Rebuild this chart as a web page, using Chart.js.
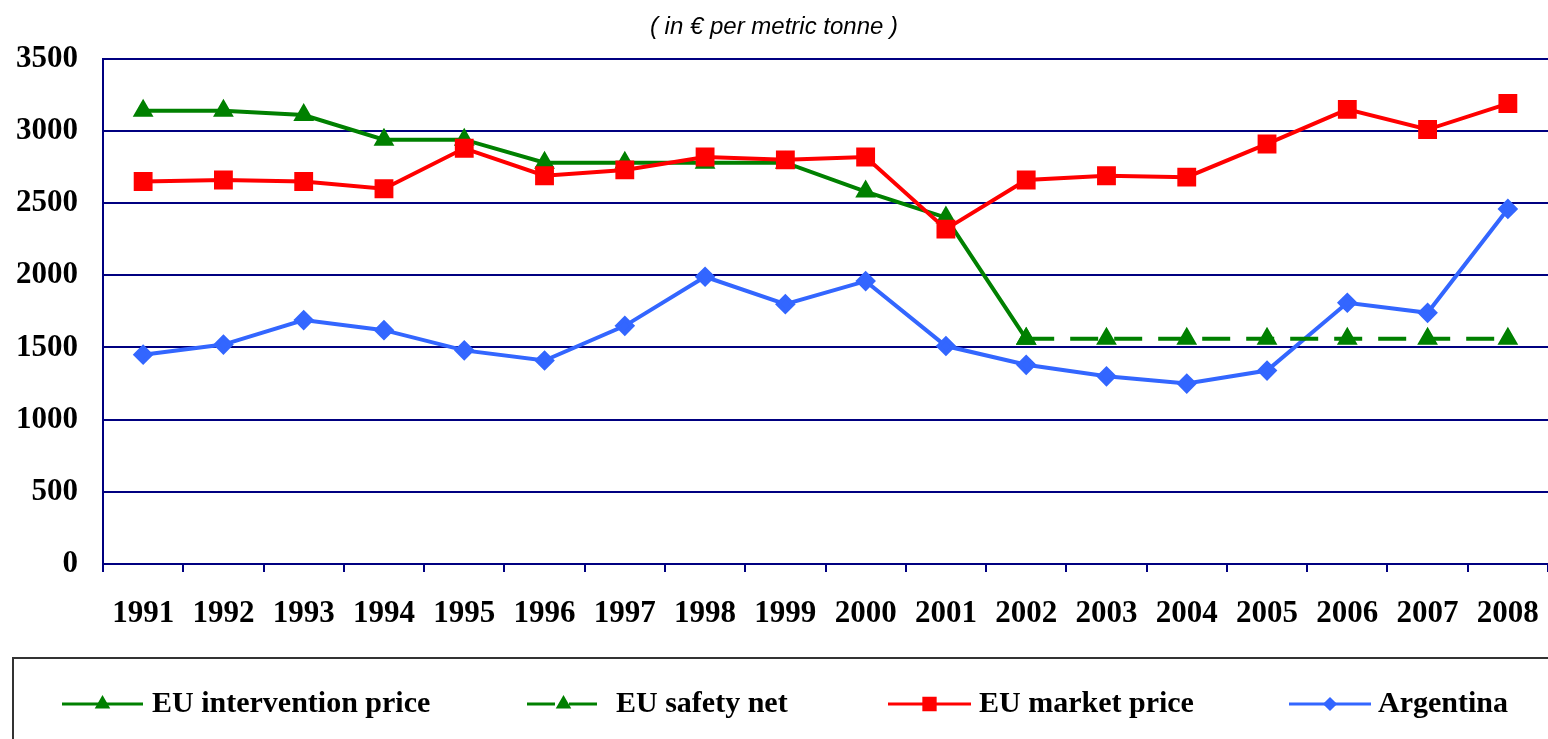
<!DOCTYPE html>
<html>
<head>
<meta charset="utf-8">
<script src="https://cdn.jsdelivr.net/npm/chart.js@4.4.1/dist/chart.umd.min.js"></script>
<style>
  html, body { margin: 0; padding: 0; background: #fff; }
  #wrap { width: 1548px; height: 739px; position: relative; }
</style>
</head>
<body>
<div id="wrap"><canvas id="priceChart"></canvas></div>
<script>
// Годы и ряды цен (евро за тонну)
const years = ['1991', '1992', '1993', '1994', '1995', '1996', '1997', '1998', '1999',
               '2000', '2001', '2002', '2003', '2004', '2005', '2006', '2007', '2008'];
const interventionPrice = [3140, 3140, 3110, 2940, 2940, 2780, 2780, 2780, 2780,
                           2580, 2400, 1560, null, null, null, null, null, null];
const safetyNet = [null, null, null, null, null, null, null, null, null,
                   null, null, 1560, 1560, 1560, 1560, 1560, 1560, 1560];
const marketPrice = [2650, 2660, 2650, 2600, 2880, 2690, 2730, 2820, 2800,
                     2820, 2320, 2660, 2690, 2680, 2910, 3150, 3010, 3190];
const argentina = [1450, 1520, 1690, 1620, 1480, 1410, 1650, 1990, 1800,
                   1960, 1510, 1380, 1300, 1250, 1340, 1810, 1740, 2460];
const yTicks = [0, 500, 1000, 1500, 2000, 2500, 3000, 3500];

const NAVY = '#000080';
const GREEN = '#008000';
const RED = '#ff0000';
const BLUE = '#3366ff';
const SERIF = '"Liberation Serif", "Times New Roman", serif';

// Легенда в рамке внизу
const boxLegend = {
    id: 'boxLegend',
    afterDraw(chart) {
        const ctx = chart.ctx;
        ctx.save();
        ctx.strokeStyle = '#333';
        ctx.lineWidth = 2;
        ctx.strokeRect(13, 658, 1600, 120);
        const cy = 704;
        const items = [
            { x0: 62, x1: 143, tx: 152, color: GREEN, style: 'triangle', r: 6, dash: [], text: 'EU intervention price' },
            { x0: 527, x1: 600, tx: 616, color: GREEN, style: 'triangle', r: 6, dash: [28, 14], text: 'EU safety net' },
            { x0: 888, x1: 971, tx: 979, color: RED, style: 'rect', r: 8, dash: [], text: 'EU market price' },
            { x0: 1289, x1: 1371, tx: 1378, color: BLUE, style: 'rectRot', r: 5, dash: [], text: 'Argentina' }
        ];
        items.forEach(it => {
            ctx.strokeStyle = it.color;
            ctx.fillStyle = it.color;
            ctx.lineWidth = 3;
            ctx.setLineDash(it.dash);
            ctx.beginPath();
            ctx.moveTo(it.x0, cy);
            ctx.lineTo(it.x1, cy);
            ctx.stroke();
            ctx.setLineDash([]);
            Chart.helpers.drawPoint(ctx, { pointStyle: it.style, radius: it.r, rotation: 0, borderWidth: 1 },
                (it.x0 + it.x1) / 2, cy);
            ctx.fillStyle = '#000';
            ctx.font = 'bold 30px ' + SERIF;
            ctx.textAlign = 'left';
            ctx.textBaseline = 'middle';
            ctx.fillText(it.text, it.tx, cy);
        });
        ctx.restore();
    }
};

const ctxPrice = document.getElementById('priceChart').getContext('2d');
const priceChart = new Chart(ctxPrice, {
    type: 'line',
    data: {
        labels: years,
        datasets: [{
            label: 'EU market price',
            data: marketPrice,
            borderColor: RED,
            backgroundColor: RED,
            borderWidth: 4,
            pointStyle: 'rect',
            pointRadius: 10.5,
            pointBackgroundColor: RED,
            pointBorderColor: RED,
            order: 0
        }, {
            label: 'EU intervention price',
            data: interventionPrice,
            borderColor: GREEN,
            backgroundColor: GREEN,
            borderWidth: 4,
            pointStyle: 'triangle',
            pointRadius: 8,
            pointBackgroundColor: GREEN,
            pointBorderColor: GREEN,
            spanGaps: false,
            order: 1
        }, {
            label: 'EU safety net',
            data: safetyNet,
            borderColor: GREEN,
            backgroundColor: GREEN,
            borderWidth: 4,
            borderDash: [28, 16],
            pointStyle: 'triangle',
            pointRadius: 8,
            pointBackgroundColor: GREEN,
            pointBorderColor: GREEN,
            spanGaps: false,
            order: 2
        }, {
            label: 'Argentina',
            data: argentina,
            borderColor: BLUE,
            backgroundColor: BLUE,
            borderWidth: 4,
            pointStyle: 'rectRot',
            pointRadius: 7.5,
            pointBackgroundColor: BLUE,
            pointBorderColor: BLUE,
            order: 3
        }]
    },
    options: {
        responsive: true,
        maintainAspectRatio: false,
        animation: false,
        tension: 0,
        layout: {
            autoPadding: false,
            padding: { top: 0, left: 0, right: 0, bottom: 100 }
        },
        plugins: {
            legend: { display: false },
            tooltip: { enabled: false },
            title: {
                display: true,
                text: '( in € per metric tonne )',
                color: '#000',
                font: { family: '"Liberation Sans", Arial, sans-serif', style: 'italic', weight: 'normal', size: 24, lineHeight: 1.2 },
                padding: { top: 13, bottom: 17 }
            }
        },
        scales: {
            x: {
                offset: true,
                grid: {
                    offset: true,
                    drawOnChartArea: false,
                    drawTicks: true,
                    tickLength: 8,
                    color: NAVY,
                    lineWidth: 2
                },
                border: { display: true, color: NAVY, width: 2 },
                ticks: {
                    color: '#000',
                    font: { family: SERIF, weight: 'bold', size: 31 },
                    padding: 23,
                    maxRotation: 0,
                    autoSkip: false
                },
                afterFit(scale) {
                    scale.height = 75;
                    scale.paddingLeft = 0;
                    scale.paddingRight = 0;
                }
            },
            y: {
                min: 0,
                max: 3500,
                afterBuildTicks(scale) { scale.ticks = yTicks.map(v => ({ value: v })); },
                grid: {
                    drawTicks: false,
                    color: NAVY,
                    lineWidth: 2
                },
                border: { display: true, color: NAVY, width: 2 },
                ticks: {
                    color: '#000',
                    font: { family: SERIF, weight: 'bold', size: 31 },
                    padding: 25,
                    callback: v => String(v)
                },
                afterFit(scale) {
                    scale.width = 103;
                    scale.paddingTop = 0;
                    scale.paddingBottom = 0;
                }
            }
        }
    },
    plugins: [boxLegend]
});
</script>
</body>
</html>
